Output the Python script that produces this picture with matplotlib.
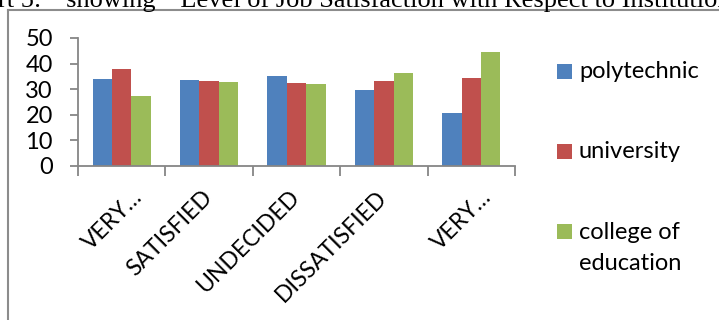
import numpy as np
import matplotlib
matplotlib.use("Agg")
import matplotlib.pyplot as plt
import matplotlib.transforms as mtransforms
from matplotlib.patches import Rectangle

# data
categories = ["VERY\u2026", "SATISFIED", "UNDECIDED", "DISSATISFIED", "VERY\u2026"]
polytechnic = [34.0, 33.5, 35.0, 29.8, 20.6]
university = [37.8, 33.3, 32.5, 33.2, 34.4]
college = [27.5, 32.7, 31.9, 36.3, 44.4]
series_names = ["polytechnic", "university", "college of\neducation"]
colors = ["#4F81BD", "#C0504D", "#9BBB59"]

plt.rcParams["font.family"] = ["Lato", "DejaVu Sans"]
W, H = 719, 320
fs = 17
fig = plt.figure(figsize=(W / 100, H / 100), dpi=100)

# title, cut off at the top of the page crop
fig.text(-2 / W, 1 - 7 / H, "rt 5:  \u201cshowing  \u201cLevel of Job Satisfaction with Respect to Institution",
         family="Liberation Serif", fontsize=19, ha="left", va="baseline")

# outer chart frame
frame_col = "#8c8c8c"
fig.add_artist(plt.Line2D([8 / W, 8 / W], [0, 1 - 10 / H], transform=fig.transFigure, color=frame_col, lw=1.5))
fig.add_artist(plt.Line2D([8 / W, 1], [1 - 10 / H, 1 - 10 / H], transform=fig.transFigure, color=frame_col, lw=1.5))

ax = fig.add_axes([78 / W, (H - 166) / H, (515 - 78) / W, 128 / H])
x = np.arange(len(categories))
w = 0.222
for i, (vals, c) in enumerate(zip([polytechnic, university, college], colors)):
    ax.bar(x + (i - 1) * w, vals, width=w, color=c, edgecolor="none")

ax.set_xlim(-0.5, len(categories) - 0.5)
ax.set_ylim(0, 50)
ax.set_yticks(range(0, 51, 10))
axis_col = "#868686"
for s in ["top", "right"]:
    ax.spines[s].set_visible(False)
for s in ["left", "bottom"]:
    ax.spines[s].set_color(axis_col)
    ax.spines[s].set_linewidth(1.3)
ax.tick_params(axis="y", length=6, width=1.3, color=axis_col, labelsize=fs, pad=12)
ax.set_xticks(np.arange(len(categories) + 1) - 0.5)
ax.set_xticklabels([])
ax.tick_params(axis="x", which="major", length=7, width=1.3, color=axis_col)
ax.set_xticks(x, minor=True)
ax.set_xticklabels(categories, minor=True, rotation=45, ha="right", va="center",
                   rotation_mode="anchor", fontsize=fs - 0.5)
ax.tick_params(axis="x", which="minor", length=0, pad=20)
# truncated labels sit a bit right of the category centre, as in the original
for lab in ax.get_xticklabels(minor=True):
    if lab.get_text().endswith("\u2026"):
        lab.set_transform(lab.get_transform() + mtransforms.ScaledTranslation(0.17, 0, fig.dpi_scale_trans))

# legend drawn by hand so the square sits at the first line of each label
leg_y = [72, 152, 232]
for name, c, yy in zip(series_names, colors, leg_y):
    fig.add_artist(Rectangle((557 / W, 1 - (yy + 7) / H), 15 / W, 15 / H,
                             transform=fig.transFigure, color=c, lw=0))
    fig.text(579 / W, 1 - (yy - 10) / H if "\n" in name else 1 - yy / H, name, fontsize=fs,
             ha="left", va="top" if "\n" in name else "center", linespacing=1.6)

fig.savefig("out.png", dpi=100)
